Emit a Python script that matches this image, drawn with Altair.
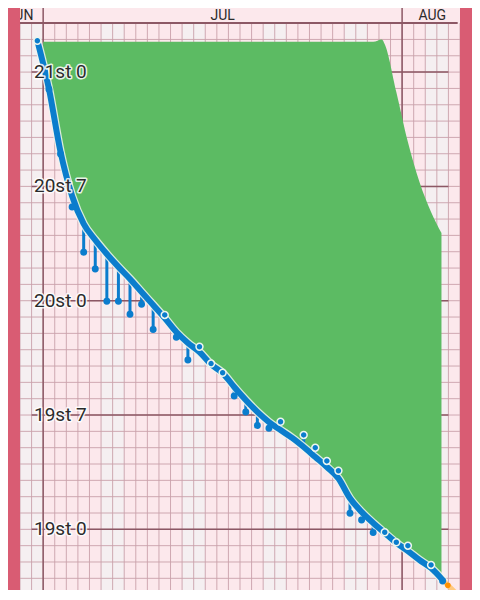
import altair as alt
import pandas as pd

# ---------------- data (x = days since 29 Jun, y = pounds) ----------------
trend_day = [1.5, 2.5, 3.5, 4.5, 5.5, 6.5, 7.5, 8.5, 9.5, 10.5, 11.5, 12.5,
             13.5, 14.5, 15.5, 16.5, 17.5, 18.5, 19.5, 20.5, 21.5, 22.5, 23.5,
             24.5, 25.5, 26.5, 27.5, 28.5, 29.5, 30.5, 31.5, 32.5, 33.5, 34.5,
             35.5, 36.5]
trend_lb = [295.92, 292.97, 289.11, 286.41, 284.70, 283.72, 282.86, 282.07,
            281.33, 280.53, 279.74, 278.94, 278.08, 277.41, 276.86, 276.10,
            275.57, 274.72, 273.92, 273.19, 272.57, 272.08, 271.60, 271.04,
            270.43, 269.82, 269.12, 267.90, 267.07, 266.39, 265.78, 265.17,
            264.67, 264.12, 263.63, 262.90]

weigh_day = [1.5, 2.5, 3.5, 4.5, 5.5, 6.5, 7.5, 8.5, 9.5, 10.5, 11.5, 12.5,
             13.5, 14.5, 15.5, 16.5, 17.5, 18.5, 19.5, 20.5, 21.5, 22.5,
             24.5, 25.5, 26.5, 27.5, 28.5, 29.5, 30.5, 31.5, 32.5, 33.5,
             35.5, 36.5]
weigh_lb = [295.92, 292.95, 288.98, 285.74, 282.97, 281.94, 279.97, 279.97,
            279.17, 279.78, 278.24, 279.13, 277.76, 276.37, 277.18, 276.15,
            275.59, 274.17, 273.19, 272.36, 272.19, 272.59, 271.78, 271.00,
            270.19, 269.59, 266.98, 266.57, 265.80, 265.82, 265.21, 265.00,
            263.82, 262.84]

# green "lost" band: top edge, with base
area_day = [2.0, 2.5, 3.5, 4.5, 5.5, 6.5, 7.5, 8.5, 9.5, 10.5, 11.5, 12.5,
            13.5, 14.5, 15.5, 16.5, 17.5, 18.5, 19.5, 20.5, 21.5, 22.5, 23.5,
            24.5, 25.5, 26.5, 27.5, 28.5, 29.5, 30.5, 31.25, 31.5, 32.5, 33.5,
            34.5, 35.5, 36.4]
area_top = [295.86] * 30 + [296.0, 295.71, 292.78, 289.72, 287.27, 285.43, 284.14]
area_base_extra = {2.0: 294.55, 31.25: 265.96, 36.4: 262.99}

proj_day = [36.5, 38.0]
proj_lb = [262.90, 261.85]
today_day = [36.95]
today_lb = [262.57]

stone_lb = [294, 287, 280, 273, 266]
stone_text = ["21st 0", "20st 7", "20st 0", "19st 7", "19st 0"]

month_text = ["JUN", "JUL", "AUG"]
month_day = [0.0, 17.5, 35.6]
month_start_day = [2, 33]
weekend_start = [0, 7, 14, 21, 28, 35]
weekend_end = [2, 9, 16, 23, 30, 37]

# ---------------- tables ----------------
trend_map = dict(zip(trend_day, trend_lb))
trend_df = pd.DataFrame({"d": trend_day, "lb": trend_lb})
weigh_df = pd.DataFrame({"d": weigh_day, "lb": weigh_lb})
weigh_df["trend"] = weigh_df["d"].map(trend_map)
weigh_df["above"] = weigh_df["lb"] >= weigh_df["trend"]
area_df = pd.DataFrame({"d": area_day, "top": area_top})
area_df["base"] = [area_base_extra.get(d, trend_map.get(d)) for d in area_day]
proj_df = pd.DataFrame({"d": proj_day, "lb": proj_lb})
today_df = pd.DataFrame({"d": today_day, "lb": today_lb})
stone_df = pd.DataFrame({"lb": stone_lb, "t": stone_text})
month_df = pd.DataFrame({"d": month_day, "t": month_text})
mstart_df = pd.DataFrame({"d": month_start_day})
weekend_df = pd.DataFrame({"d0": weekend_start, "d1": weekend_end})
days_df = pd.DataFrame({"d": list(range(0, 39))})
lbs_df = pd.DataFrame({"lb": list(range(263, 297))})

# ---------------- style ----------------
RED = "#d95c73"
PINK = "#fce8ec"
WEEKEND = "#f5eff1"
MINOR = "#caa0aa"
MAJOR = "#8c5865"
GREEN = "#5cbb63"
BLUE = "#0b7dcd"
TEXT = "#2b2b2b"

xs = alt.Scale(domain=[0, 38], nice=False, zero=False)
ys = alt.Scale(domain=[262.285, 297.925], nice=False, zero=False)


def X(f):
    return alt.X(f, type="quantitative", scale=xs, axis=None)


def Y(f):
    return alt.Y(f, type="quantitative", scale=ys, axis=None)


def XD(v):
    return alt.X(datum=v, scale=xs, axis=None)


def YD(v):
    return alt.Y(datum=v, scale=ys, axis=None)


weekend = alt.Chart(weekend_df).mark_rect(color=WEEKEND, clip=True).encode(
    x=X("d0"), x2="d1", y=YD(297), y2=alt.Y2(datum=262))

minor_v = alt.Chart(days_df).mark_rule(color=MINOR, strokeWidth=0.9, clip=True).encode(
    x=X("d"), y=YD(297), y2=alt.Y2(datum=262))
minor_h = alt.Chart(lbs_df).mark_rule(color=MINOR, strokeWidth=0.9).encode(
    y=Y("lb"), x=XD(0), x2=alt.X2(datum=38))
major_v = alt.Chart(mstart_df).mark_rule(color=MAJOR, strokeWidth=1.5, clip=True).encode(
    x=X("d"), y=YD(297.98), y2=alt.Y2(datum=262))
major_h = alt.Chart(stone_df).mark_rule(color=MAJOR, strokeWidth=1.5).encode(
    y=Y("lb"), x=XD(1), x2=alt.X2(datum=37))
top_axis = alt.Chart(stone_df.head(1)).mark_rule(color=MAJOR, strokeWidth=2).encode(
    y=YD(297), x=XD(0), x2=alt.X2(datum=37.8))

area = alt.Chart(area_df).mark_area(color=GREEN, interpolate="monotone", opacity=1).encode(
    x=X("d"), y=Y("top"), y2="base")

stems = alt.Chart(weigh_df).mark_rule(color=BLUE, strokeWidth=3).encode(
    x=X("d"), y=Y("lb"), y2="trend")

trend_halo = alt.Chart(trend_df).mark_line(
    color="#eef6ee", strokeWidth=8.5, interpolate="monotone", strokeCap="round", opacity=0.85
).encode(x=X("d"), y=Y("lb"))
trend = alt.Chart(trend_df).mark_line(
    color=BLUE, strokeWidth=6, interpolate="monotone", strokeCap="round"
).encode(x=X("d"), y=Y("lb"))

proj = alt.Chart(proj_df).mark_line(color="#ffc97f", strokeWidth=5, clip=True).encode(
    x=X("d"), y=Y("lb"))

pts_below = alt.Chart(weigh_df).transform_filter("!datum.above").mark_circle(
    fill=BLUE, size=48, opacity=1).encode(x=X("d"), y=Y("lb"))
pts_above = alt.Chart(weigh_df).transform_filter("datum.above").mark_circle(
    fill=BLUE, stroke="#eef6ef", strokeWidth=1.5, size=48, opacity=1).encode(x=X("d"), y=Y("lb"))

today = alt.Chart(today_df).mark_circle(color="#ff9000", size=32, opacity=1).encode(
    x=X("d"), y=Y("lb"))

label_halo = alt.Chart(stone_df).mark_text(
    align="left", baseline="middle", font="Roboto", fontSize=19,
    fill="white", stroke="white", strokeWidth=3, strokeOpacity=0.85, strokeJoin="round"
).encode(x=alt.value(14), y=Y("lb"), text="t")
labels = alt.Chart(stone_df).mark_text(
    align="left", baseline="middle", font="Roboto", fontSize=19, color=TEXT
).encode(x=alt.value(14), y=Y("lb"), text="t")

months = alt.Chart(month_df).mark_text(
    align="center", baseline="top", font="Roboto", fontSize=14, color=TEXT, clip=True
).encode(x=X("d"), y=alt.value(1), text="t")

chart = alt.layer(
    weekend, minor_v, minor_h, major_v, major_h, top_axis,
    area, stems, trend_halo, trend, proj, pts_below, pts_above, today,
    label_halo, labels, months
).properties(
    width=440, height=582,
    padding={"left": 12, "right": 12, "top": 0, "bottom": 0},
    autosize=alt.AutoSizeParams(type="none"),
    background=RED,
).configure_view(fill=PINK, strokeWidth=0)

chart.save("out.html", embed_options={"renderer": "svg", "actions": False})
